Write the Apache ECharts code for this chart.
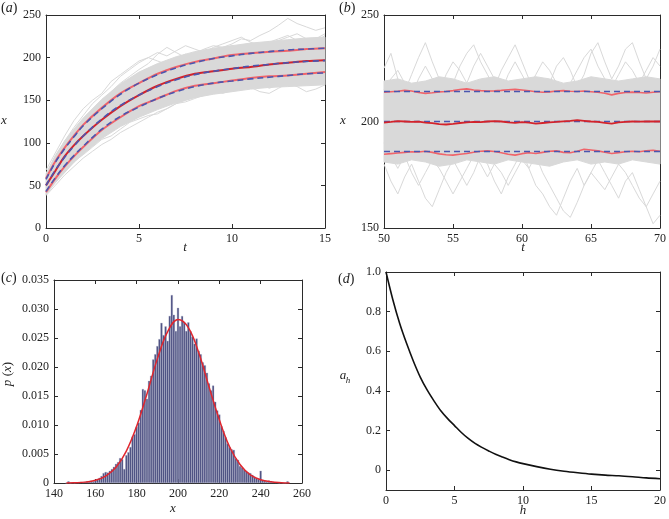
<!DOCTYPE html>
<html><head><meta charset="utf-8">
<script src="https://cdn.jsdelivr.net/npm/echarts@6.0.0/dist/echarts.min.js"></script>
<style>html,body{margin:0;padding:0;background:#fff}#c{width:669px;height:519px}</style>
</head><body><div id="c"></div>
<script>
// ---------- Panel (a) ----------
const tA = [0,0.5,1,1.5,2,3,4,5,6,7,8,9,10,11,12,13,14,15];
const meanTheoryA  = [50,68,83,96,108,128,144,156,166,174,180,184,187,190,192,194,195.5,196.5];
const upperTheoryA = [57,77,93,107,120,140,157,170,180,188,194,199,202,205,207,209,210,211];
const lowerTheoryA = [43,59,73,85,96,116,131,142,152,160,166,170,172.5,175,177,179,181,182];
const meanSimA  = [50,67,84,97,108,127,143,156,167,175,181,184,187,189,192,194,196,197];
const upperSimA = [58,78,94,108,121,141,158,170,181,189,195,199,203,205,207,208,210,211];
const lowerSimA = [42,58,72,84,95,115,130,143,152,161,167,170,173,176,178,179,181,183];
const coreLowA  = [39,53,65,77,87,105,119,130,139,147,153,157,160,163,165,166,167,168];
const coreHighA = [63,85,102,116,129,151,169,183,193,201,207,211,214,217,219,221,223,224];
const trajStepA = 0.5;
const trajA1 = [60,78,96,110,124,136,147,160,170,178,186,193,204,212,206,200,205,210,214,212,216,222,220,226,231,238,246,240,236,232,235];
const trajA2 = [40,55,66,78,86,95,104,108,116,124,128,132,134,140,146,148,152,156,162,158,162,166,165,160,158,164,170,166,160,163,168];
const trajA3 = [68,88,108,126,140,150,158,172,180,188,196,200,196,192,198,204,202,198,204,210,214,208,204,210,216,220,224,228,222,218,226];
const trajA4 = [45,60,76,90,102,112,120,128,136,142,150,156,160,166,170,168,172,176,172,170,174,178,176,172,176,180,184,178,174,178,182];
const trajA5 = [52,72,90,104,116,128,140,146,152,160,170,178,182,186,190,192,188,186,190,196,200,198,202,206,200,196,200,204,210,214,212];
const trajA6 = [50,66,82,96,108,118,126,136,144,148,154,160,164,170,172,176,180,178,172,168,170,176,178,170,164,168,174,178,176,172,174];
const trajA7 = [38,50,62,72,82,90,98,104,112,118,124,130,136,140,146,150,154,158,160,164,168,164,170,176,172,168,172,176,180,176,178];
const trajA8 = [64,84,102,118,132,146,156,166,178,186,194,200,206,202,208,214,210,206,212,216,220,224,218,214,218,222,226,220,216,222,228];

// ---------- Panel (b) ----------
const tB0 = 50, tStepB = 0.5, tStepCoreB = 1;
const theoryLevelsB = [200, 214.1, 185.9];
const coreLowB  = [181,180,182,181,179,180,182,181,180,182,181,180,179,181,182,180,181,180,182,181,180];
const coreHighB = [219,220,218,219,221,220,218,220,221,219,220,221,220,218,219,221,220,219,220,221,220];
const meanSimB  = [199.5,199.8,200.2,200,199.8,199.9,199.5,199.2,198.8,198.6,198.9,199.3,199.6,199.8,199.7,200,200.2,200,199.6,199.4,199.7,199.5,199.0,199.3,199.6,199.8,200.1,200.3,200.6,200.3,200,199.8,199.4,199.0,199.6,199.8,200,199.9,200,200.1,200];
const upperSimB = [213.8,214.0,214.2,214.6,214.3,213.6,213.2,213.5,213.9,214.1,214.5,215.0,215.3,214.8,214.5,214.3,214.4,214.6,214.9,215.1,214.8,214.4,214.0,213.7,213.9,214.3,214.5,214.2,214.1,214.3,214.0,213.7,213.3,212.5,213.2,213.6,213.8,213.6,213.4,213.7,214.0];
const lowerSimB = [184.6,184.9,185.2,185.5,185.8,185.7,186.0,185.5,184.8,184.4,184.2,184.6,185.0,185.6,186.0,186.2,185.9,185.3,184.6,184.2,184.9,185.3,185.0,185.5,186.0,186.2,185.5,185.3,186.0,187.0,186.6,186.2,185.6,185.0,185.4,185.8,186.0,185.8,186.3,186.5,186.0];
const trajB1 = [225,232,220,214,222,230,237,228,220,212,218,226,232,236,228,222,216,224,230,236,228,220,214,210,218,226,230,224,216,222,232,237,228,220,226,234,237,228,220,226,234];
const trajB2 = [180,172,166,174,180,172,164,160,168,176,182,176,170,176,184,180,172,166,174,180,186,178,170,166,160,156,164,172,178,170,176,182,176,170,164,172,176,168,160,152,156];
const trajB3 = [215,220,224,218,212,220,226,220,214,222,228,224,218,226,232,226,220,214,222,228,222,216,222,228,224,218,212,218,224,230,234,226,220,216,222,228,224,218,224,230,226];
const trajB4 = [190,184,178,184,176,170,176,182,178,172,166,172,178,184,180,174,180,176,170,176,182,178,184,176,170,164,158,155,162,170,176,172,168,174,180,176,170,164,160,166,172];

// ---------- Panel (c) ----------
const histX0 = 146;
const histP = [0,0.0003,0,0.0001,0,0.0001,0.0001,0.0002,0.0001,0.0002,0.0003,0.0003,0.0004,0.0003,0.0005,0.0007,0.0009,0.0012,0.0017,0.0019,
  0.0018,0.0021,0.0024,0.0028,0.0033,0.0036,0.0043,0.0041,0.0024,0.0048,0.0053,0.0062,0.0080,0.0084,0.0097,0.0104,0.0126,0.0162,0.0160,0.0145,
  0.0176,0.0185,0.0213,0.0222,0.0236,0.0248,0.0276,0.0255,0.0270,0.0245,0.0288,0.0324,0.0290,0.0262,0.0302,0.0270,0.0288,0.0278,0.0262,0.0277,
  0.0262,0.0252,0.0240,0.0249,0.0228,0.0222,0.0208,0.0203,0.0190,0.0172,0.0160,0.0168,0.0140,0.0125,0.0118,0.0098,0.0090,0.0079,0.0068,0.0062,
  0.0058,0.0057,0.0042,0.0040,0.0029,0.0027,0.0023,0.0021,0.0018,0.0017,0.0014,0.0011,0.0009,0.0007,0.0021,0.0005,0.0004,0.0003,0.0004,0.0003,
  0.0002,0.0001,0.0001,0,0.0001,0,0,0.0003];
const fitX = [146,150,155,160,165,170,175,180,185,190,195,200,205,210,215,220,225,230,235,240,245,250,254];
const fitP = [0.00001,0.00004,0.00015,0.00046,0.0012,0.0027,0.0055,0.0098,0.0154,0.0214,0.0261,0.0282,0.0268,0.0225,0.0166,0.0109,0.0062,0.0032,0.0014,0.00056,0.0002,0.00006,0.00002];

// ---------- Panel (d) ----------
const acfH = [0,0.5,1,1.5,2,2.5,3,3.5,4,4.5,5,5.5,6,6.5,7,7.5,8,8.5,9,9.5,10,11,12,13,14,15,16,17,18,19,20];
const acfV = [1.0,0.86,0.74,0.64,0.55,0.47,0.405,0.35,0.30,0.26,0.225,0.19,0.16,0.135,0.115,0.097,0.08,0.066,0.053,0.042,0.033,0.018,0.005,-0.005,-0.013,-0.02,-0.025,-0.028,-0.033,-0.039,-0.043];
const yTicksD = [0,0.2,0.4,0.6,0.8,1.0];

// ---------- styling ----------
const FONT = 'Liberation Serif';
const AX = '#2b2b2b';
const GRAY = '#d9d9d9';
const RED_MEAN = '#d3232b';
const RED_BAND = '#f0646a';
const BLUE = '#4a56b0';
const FS = 12;

function zip(xs, ys){ return ys.map((y,i)=>[xs[i], y]); }
function stepped(x0, step, ys){ return ys.map((y,i)=>[x0 + i*step, y]); }

const grids = [
  {left:46, top:15, width:279, height:213},
  {left:384, top:15, width:279, height:213},
  {left:54, top:280, width:248, height:203},
  {left:386, top:272, width:275, height:218}
];

const xAxes = [], yAxes = [];
function addAxes(gi, xcfg, ycfg){
  const baseX = {gridIndex:gi, type:'value', min:xcfg.min, max:xcfg.max, interval:xcfg.interval,
    axisLine:{show:true, onZero:false, lineStyle:{color:AX, width:1}},
    axisTick:{show:true, inside:true, length:4, lineStyle:{color:AX}},
    splitLine:{show:false}};
  xAxes.push(Object.assign({}, baseX, {position:'bottom',
    axisLabel:{show:true, margin:5, color:'#222', fontFamily:FONT, fontSize:FS, formatter:xcfg.fmt}}));
  xAxes.push(Object.assign({}, baseX, {position:'top', axisLabel:{show:false}}));
  const baseY = {gridIndex:gi, type:'value', min:ycfg.min, max:ycfg.max, interval:ycfg.interval,
    axisLine:{show:true, onZero:false, lineStyle:{color:AX, width:1}},
    axisTick:{show:true, inside:true, length:4, lineStyle:{color:AX}},
    splitLine:{show:false}};
  if (ycfg.custom){
    baseY.axisTick.customValues = ycfg.custom;
  }
  const lab = {show:true, margin:5, color:'#222', fontFamily:FONT, fontSize:FS, formatter:ycfg.fmt};
  if (ycfg.custom) lab.customValues = ycfg.custom;
  yAxes.push(Object.assign({}, baseY, {position:'left', axisLabel:lab}));
  yAxes.push(Object.assign({}, baseY, {position:'right', axisLabel:{show:false}}));
}
addAxes(0, {min:0,max:15,interval:5}, {min:0,max:250,interval:50});
addAxes(1, {min:50,max:70,interval:5}, {min:150,max:250,interval:50});
addAxes(2, {min:140,max:260,interval:20}, {min:0,max:0.035,interval:0.005, fmt:v=> v===0?'0':v.toFixed(3)});
addAxes(3, {min:0,max:20,interval:5}, {min:-0.1,max:1.0, custom:yTicksD, fmt:v=> Math.abs(v)<1e-9?'0':v.toFixed(1)});

const series = [];
function line(gi, data, opts){
  series.push(Object.assign({type:'line', xAxisIndex:gi*2, yAxisIndex:gi*2, data:data, symbol:'none',
    silent:true, animation:false}, opts));
}
function band(gi, xs, lo, hi){
  series.push({type:'custom', xAxisIndex:gi*2, yAxisIndex:gi*2, data:[[xs[0], lo[0]]], silent:true, animation:false, z:1,
    renderItem:function(params, api){
      const top = xs.map((x,i)=> api.coord([x, hi[i]]));
      const bot = xs.map((x,i)=> api.coord([x, lo[i]])).reverse();
      return {type:'polygon', shape:{points: top.concat(bot)}, style:{fill:GRAY, stroke:GRAY, lineWidth:1}};
    }});
}
const trajStyle = {lineStyle:{color:GRAY, width:1}, z:1};

// (a)
band(0, tA, coreLowA, coreHighA);
[trajA1,trajA2,trajA3,trajA4,trajA5,trajA6,trajA7,trajA8].forEach(tr=> line(0, stepped(0, trajStepA, tr), trajStyle));
line(0, zip(tA, upperSimA), {smooth:0.3, lineStyle:{color:RED_BAND, width:2}, z:3});
line(0, zip(tA, lowerSimA), {smooth:0.3, lineStyle:{color:RED_BAND, width:2}, z:3});
line(0, zip(tA, meanSimA), {smooth:0.3, lineStyle:{color:RED_MEAN, width:2}, z:3});
[upperTheoryA, lowerTheoryA, meanTheoryA].forEach(arr=> line(0, zip(tA, arr), {smooth:0.4, lineStyle:{color:BLUE, width:1.6, type:[6,4]}, z:4}));

// (b)
const tCoreB = coreLowB.map((_,i)=> tB0 + i*tStepCoreB);
band(1, tCoreB, coreLowB, coreHighB);
[trajB1,trajB2,trajB3,trajB4].forEach(tr=> line(1, stepped(tB0, tStepB, tr), trajStyle));
theoryLevelsB.forEach(v=> line(1, [[50, v],[70, v]], {lineStyle:{color:BLUE, width:1.6, type:[6,4]}, z:4}));
line(1, stepped(tB0, tStepB, upperSimB), {lineStyle:{color:RED_BAND, width:1.6}, z:3});
line(1, stepped(tB0, tStepB, lowerSimB), {lineStyle:{color:RED_BAND, width:1.6}, z:3});
line(1, stepped(tB0, tStepB, meanSimB), {lineStyle:{color:RED_MEAN, width:1.8}, z:5});

// (c)
series.push({type:'bar', xAxisIndex:4, yAxisIndex:4, data: stepped(histX0, 1, histP), barWidth:2.06,
  itemStyle:{color:'#484b7e', borderColor:'#a9abc6', borderWidth:0.35}, silent:true, animation:false, z:2});
line(2, zip(fitX, fitP), {smooth:0.4, lineStyle:{color:'#e0262e', width:1.5}, z:3});

// (d)
line(3, zip(acfH, acfV), {smooth:0.3, lineStyle:{color:'#111', width:1.6}, z:3});

// ---------- text ----------
function txt(x, y, text, opt){
  return {type:'text', x:x, y:y, silent:true,
    style:Object.assign({text:text, fontFamily:FONT, fontSize:13, fill:'#222', textAlign:'center', textVerticalAlign:'middle'}, opt||{})};
}
function panelLabel(x, y, letter){
  return {type:'text', x:x, y:y, silent:true, style:{text:'{p|(}{i|'+letter+'}{p|)}', textAlign:'left', textVerticalAlign:'middle',
    rich:{p:{fontFamily:FONT, fontSize:14, fill:'#222'}, i:{fontFamily:FONT, fontSize:14, fontStyle:'italic', fill:'#222'}}}};
}
const it = {fontStyle:'italic'};
const graphics = [
  panelLabel(1, 8, 'a'), panelLabel(339, 8, 'b'), panelLabel(1, 278, 'c'), panelLabel(338, 279, 'd'),
  txt(4, 121, 'x', it), txt(185, 248, 't', it),
  txt(343, 121, 'x', it), txt(523, 248, 't', it),
  txt(173, 509, 'x', it), txt(523, 511, 'h', it),
  txt(343, 376, 'a', it), txt(348, 381, 'h', {fontStyle:'italic', fontSize:9}),
  {type:'text', x:8, y:374, rotation:Math.PI/2, silent:true,
   style:{text:'{i|p} {p|(}{i|x}{p|)}', textAlign:'center', textVerticalAlign:'middle',
     rich:{p:{fontFamily:FONT, fontSize:13, fill:'#222'}, i:{fontFamily:FONT, fontSize:13, fontStyle:'italic', fill:'#222'}}}}
];

const chart = echarts.init(document.getElementById('c'), null, {renderer:'canvas'});
chart.setOption({animation:false, backgroundColor:'#fff', grid:grids, xAxis:xAxes, yAxis:yAxes, series:series, graphic:graphics});
</script></body></html>
